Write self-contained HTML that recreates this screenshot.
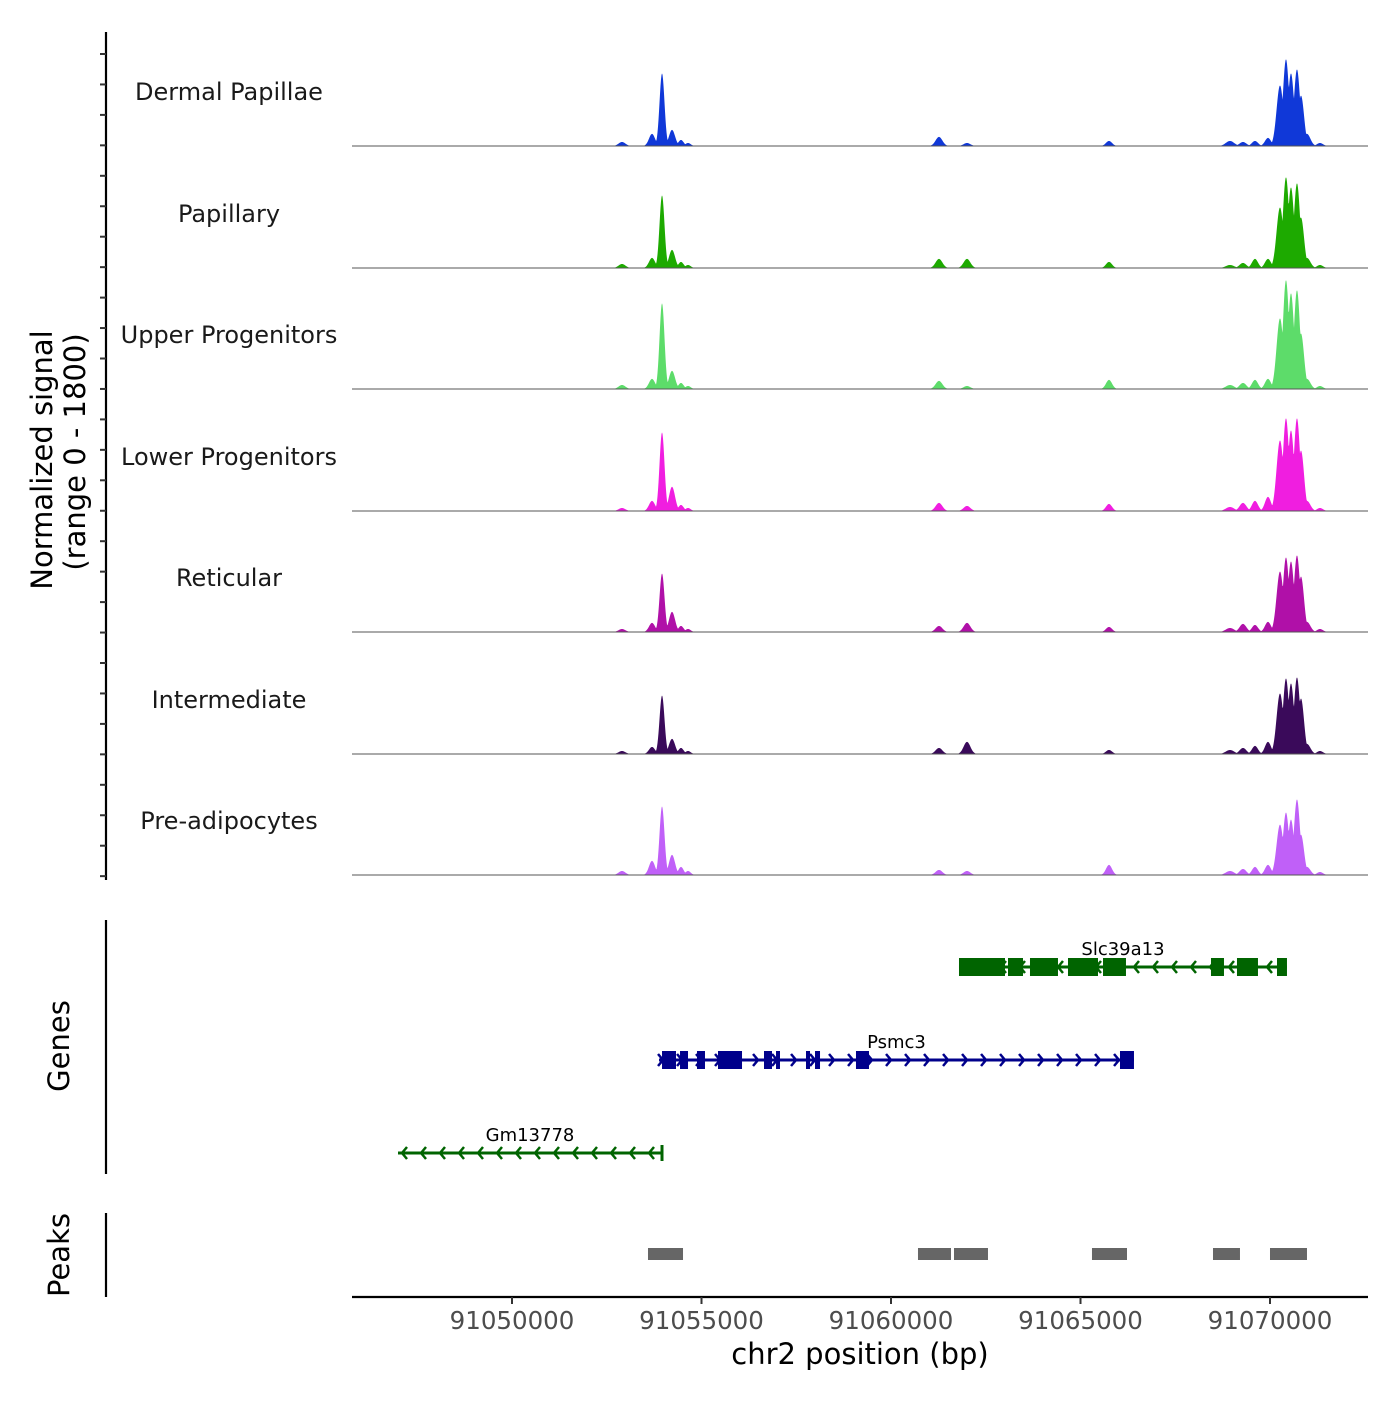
<!DOCTYPE html>
<html><head><meta charset="utf-8"><style>
body{margin:0;background:#fff;}
svg text{font-family:"DejaVu Sans","Liberation Sans",sans-serif;}
</style></head><body>
<svg id="chart" width="1400" height="1400" viewBox="0 0 1400 1400" xmlns="http://www.w3.org/2000/svg">
<g id="tracks"></g>
<g id="axes"></g>
<g id="genes"></g>
<g id="peaks"></g>
</svg>
<script>
const trackNames = ["Dermal Papillae","Papillary","Upper Progenitors","Lower Progenitors","Reticular","Intermediate","Pre-adipocytes"];
const trackColors = ["#1038d8","#1daa00","#5ddc6a","#f01ee0","#b010a8","#3a0a5a","#c060f8"];
const peakPositions = [91052902,91053694,91053958,91054222,91054459,91054644,91061266,91062005,91065752,91068944,91069287,91069604,91069947,91070264,91070422,91070554,91070712,91070818,91070976,91071319];
const peakSigma = [90,80,65,80,70,70,90,90,80,110,90,80,80,90,80,80,80,80,90,80];
const dermalValues = [60,180,1080,240,90,45,135,45,75,75,60,75,120,900,1290,1080,1140,750,180,45];
const papillaryValues = [60,150,1080,270,90,45,135,135,90,45,75,135,135,900,1350,1200,1260,750,150,45];
const upperValues = [60,150,1275,270,90,45,120,45,135,60,90,135,150,1050,1620,1425,1470,825,150,45];
const lowerValues = [45,150,1170,360,90,45,120,75,105,60,120,150,210,1050,1380,1200,1380,900,150,45];
const reticularValues = [45,135,870,300,90,45,90,135,75,60,120,105,150,900,1110,1050,1140,825,150,45];
const intermediateValues = [45,105,870,225,90,45,90,180,60,60,90,120,180,900,1125,1050,1140,825,150,45];
const preadipValues = [60,210,1020,300,120,60,75,60,150,60,90,120,150,750,930,825,1125,600,120,45];
const xTicks = [91050000,91055000,91060000,91065000,91070000];
const genesSlc = {name:"Slc39a13",strand:-1,start:91061794,end:91070448,exons:[[91061794,91063008],[91063087,91063483],[91063667,91064406],[91064670,91065462],[91065594,91066200],[91068443,91068786],[91069129,91069683],[91070185,91070448]]};
const genesPsmc = {name:"Psmc3",strand:1,start:91053879,end:91066411,exons:[[91053958,91054327],[91054433,91054644],[91054881,91055092],[91055435,91056069],[91056649,91056860],[91056966,91057071],[91057757,91057863],[91057995,91058127],[91059076,91059419],[91066042,91066411]]};
const genesGm = {name:"Gm13778",strand:-1,start:91046992,end:91053958,exons:[]};
const peakRegions = [[91053588,91054512],[91060712,91061583],[91061662,91062559],[91065303,91066227],[91068496,91069208],[91070000,91070976]];

const allValues = [dermalValues,papillaryValues,upperValues,lowerValues,reticularValues,intermediateValues,preadipValues];
const NS="http://www.w3.org/2000/svg";
const X0=352,X1=1368,BP0=91045778,BP1=91072586;
function xs(bp){return X0+(bp-BP0)/(BP1-BP0)*(X1-X0);}
const baselines=[146,268,389,511,632,754,875];
const TH=121;
function ys(v,base){return base-v/1800*TH;}
function mk(tag,attrs,parent){const e=document.createElementNS(NS,tag);for(const k in attrs)e.setAttribute(k,attrs[k]);parent.appendChild(e);return e;}
const tracks=document.getElementById('tracks');
allValues.forEach((vals,t)=>{
  const base=baselines[t];
  const g=mk('g',{},tracks);
  
  
  let d='M'+X0+','+base;
  for(let px=X0;px<=X1;px+=0.5){
    const bp=BP0+(px-X0)/(X1-X0)*(BP1-BP0);
    let v=0;
    for(let i=0;i<peakPositions.length;i++){const z=(bp-peakPositions[i])/peakSigma[i];v=Math.max(v,vals[i]*Math.exp(-0.5*z*z));}
    d+=' L'+px.toFixed(1)+','+ys(v,base).toFixed(2);
  }
  d+=' L'+X1+','+base+' Z';
  const p=mk('path',{d:d,fill:trackColors[t],stroke:'none'},g);
  
  
  const bl=mk('line',{x1:X0,x2:X1,y1:base,y2:base,stroke:'#555','stroke-width':1},g);
  
  
  const tl=mk('text',{x:229,y:base-46,'text-anchor':'middle','font-size':24,fill:'#1a1a1a'},g);
  tl.textContent=trackNames[t];
  
  
});
const axes=document.getElementById('axes');
function line(x1,y1,x2,y2,w,c,name,par){const l=mk('line',{x1,y1,x2,y2,stroke:c||'#000','stroke-width':w},par||axes);return l;}
line(106,32,106,880,2.2,'#000','signal-y-axis');
for(let k=0;k<28;k++){const y=54+30.45*k;line(100,y,106,y,2,'#333','y-tick');}
line(106,920,106,1174,2.2,'#000','genes-y-axis');
line(106,1213,106,1297,2.2,'#000','peaks-y-axis');
line(352,1297,1368,1297,2.2,'#000','x-axis');
xTicks.forEach(v=>{const x=xs(v);line(x,1297,x,1304,2,'#333','x-tick');
  const t=mk('text',{x:x,y:1329,'text-anchor':'middle','font-size':24.5,fill:'#4d4d4d'},axes);t.textContent=String(v);
  });
function txt(s,x,y,size,rot,name){const t=mk('text',{x,y,'text-anchor':'middle','font-size':size,fill:'#000'},axes);if(rot)t.setAttribute('transform','rotate(-90 '+x+' '+y+')');t.textContent=s;return t;}
txt('chr2 position (bp)',860,1364,29,false,'x-axis-title');
txt('Normalized signal',52,460,29,true,'y-axis-title');
txt('(range 0 - 1800)',85,452,29,true,'y-axis-subtitle');
txt('Genes',69,1046,29,true,'genes-axis-title');
txt('Peaks',69,1255,29,true,'peaks-axis-title');

const genesG=document.getElementById('genes');
function drawGene(gene,y,color){
  const g=mk('g',{},genesG);
  
  
  const x1=xs(gene.start),x2=xs(gene.end);
  mk('line',{x1,y1:y,x2,y2:y,stroke:color,'stroke-width':3},g);
  for(let x=x1+4;x<x2-6;x+=19){
    const a=gene.strand>0?-5:5;
    mk('polyline',{points:(x+a)+','+(y-6)+' '+x+','+y+' '+(x+a)+','+(y+6),fill:'none',stroke:color,'stroke-width':2.5},g);
  }
  gene.exons.forEach(e=>{mk('rect',{x:xs(e[0]),y:y-9,width:Math.max(3,xs(e[1])-xs(e[0])),height:18,fill:color},g);});
  if(!gene.exons.length){mk('line',{x1:x2,y1:y-8,x2:x2,y2:y+8,stroke:color,'stroke-width':3},g);}
  const t=mk('text',{x:(x1+x2)/2,y:y-12,'text-anchor':'middle','font-size':18,fill:'#000'},g);t.textContent=gene.name;
  
}
drawGene(genesSlc,967,'#006400');
drawGene(genesPsmc,1060,'#00008b');
drawGene(genesGm,1153,'#006400');
const peaksG=document.getElementById('peaks');
peakRegions.forEach(r=>{const rc=mk('rect',{x:xs(r[0]),y:1248,width:xs(r[1])-xs(r[0]),height:12,fill:'#666'},peaksG);
  });
</script>
</body></html>
